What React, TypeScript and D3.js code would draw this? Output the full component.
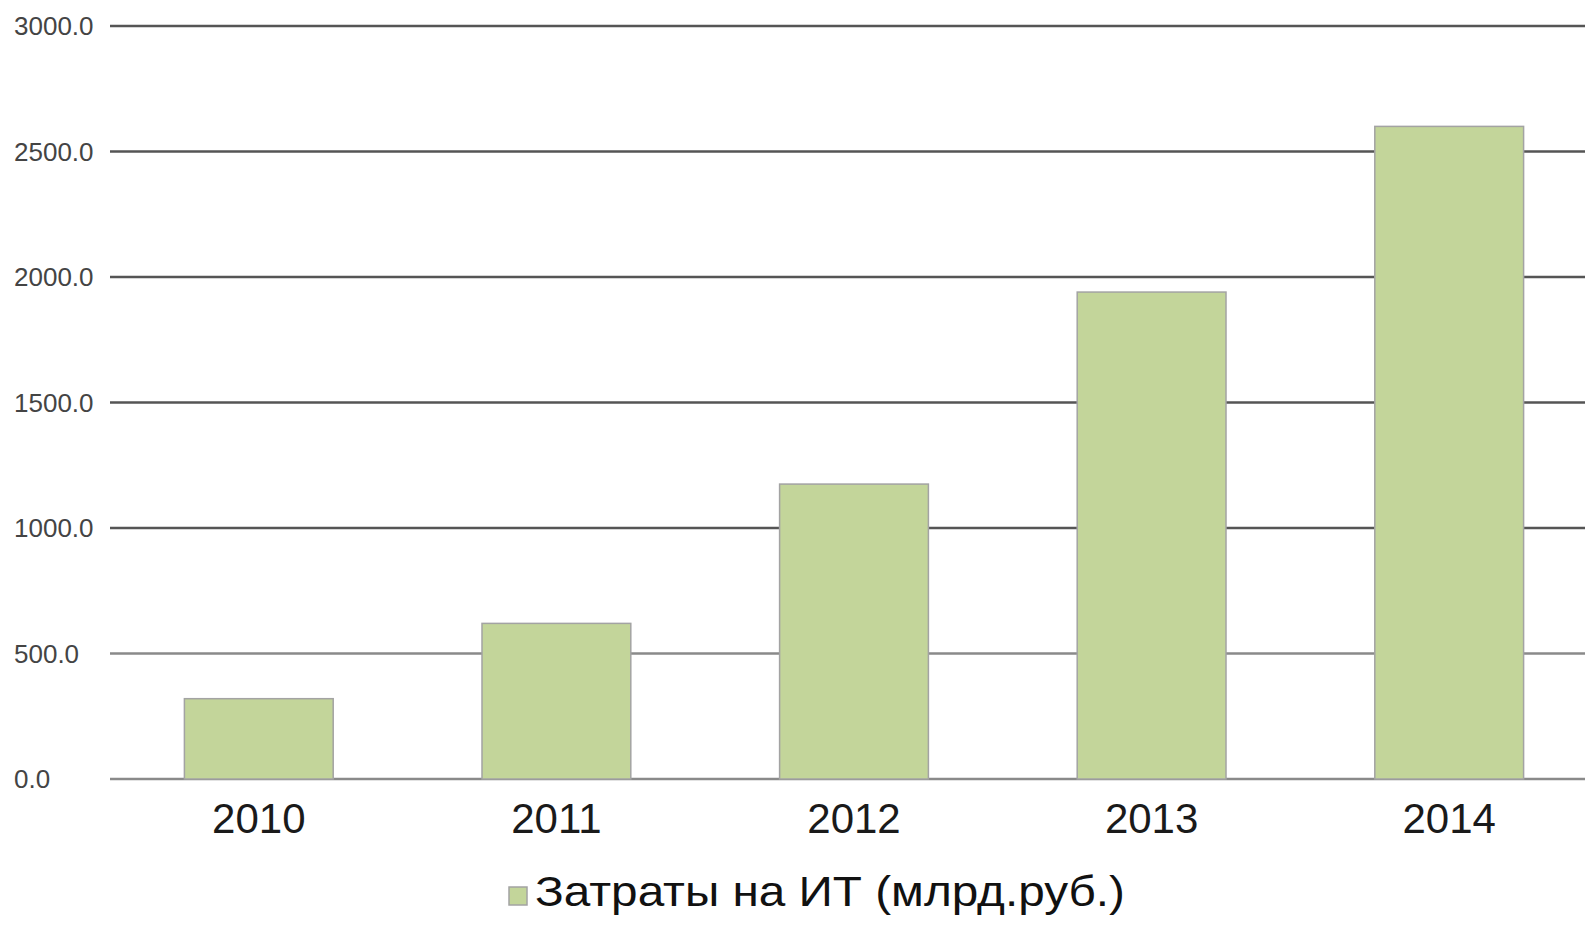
import React, { useEffect, useRef } from "react";
import * as d3 from "d3";

const years = ["2010", "2011", "2012", "2013", "2014"];
const spending = [320, 620, 1175, 1940, 2600];
const yTicks = [0, 500, 1000, 1500, 2000, 2500, 3000];
const legendLabel = "Затраты на ИТ (млрд.руб.)";

const width = 1585;
const height = 925;

export default function App() {
  const ref = useRef<SVGSVGElement>(null);

  useEffect(() => {
    const svg = d3.select(ref.current);
    svg.selectAll("*").remove();

    const left = 110,
      right = 1598,
      top = 26,
      bottom = 779;

    const x = d3.scaleBand().domain(years).range([left, right]).paddingInner(0.5).paddingOuter(0.25);
    const y = d3.scaleLinear().domain([0, 3000]).range([bottom, top]);

    // grid lines + labels
    const grid = svg.append("g");
    grid
      .selectAll("line")
      .data(yTicks)
      .join("line")
      .attr("x1", left)
      .attr("x2", width)
      .attr("y1", (d) => y(d))
      .attr("y2", (d) => y(d))
      .attr("stroke", (d) => (d <= 500 ? "#8a8a8a" : "#555"))
      .attr("stroke-width", 2.5);

    grid
      .selectAll("text")
      .data(yTicks)
      .join("text")
      .attr("x", 14)
      .attr("y", (d) => y(d))
      .attr("dy", "0.36em")
      .attr("font-family", "Liberation Sans, Arial, sans-serif")
      .attr("font-size", 26)
      .attr("fill", "#444")
      .text((d) => d3.format(".1f")(d));

    svg
      .append("g")
      .selectAll("rect")
      .data(spending)
      .join("rect")
      .attr("x", (d, i) => x(years[i])!)
      .attr("y", (d) => y(d))
      .attr("width", x.bandwidth())
      .attr("height", (d) => bottom - y(d))
      .attr("fill", "#c3d59a")
      .attr("stroke", "#a3a3a3")
      .attr("stroke-width", 1.5);

    // x labels
    svg
      .append("g")
      .selectAll("text")
      .data(years)
      .join("text")
      .attr("x", (d) => x(d)! + x.bandwidth() / 2)
      .attr("y", 833)
      .attr("text-anchor", "middle")
      .attr("font-family", "Liberation Sans, Arial, sans-serif")
      .attr("font-size", 42)
      .attr("fill", "#1a1a1a")
      .text((d) => d);

    // legend
    const legend = svg.append("g");
    legend
      .append("rect")
      .attr("x", 509)
      .attr("y", 887)
      .attr("width", 18)
      .attr("height", 18)
      .attr("fill", "#c3d59a")
      .attr("stroke", "#a3a3a3")
      .attr("stroke-width", 1.5);
    legend
      .append("text")
      .attr("x", 535)
      .attr("y", 906)
      .attr("font-family", "Liberation Sans, Arial, sans-serif")
      .attr("font-size", 42)
      .attr("textLength", 590)
      .attr("lengthAdjust", "spacingAndGlyphs")
      .attr("fill", "#111")
      .text(legendLabel);
  }, []);

  return (
    <div style={{ position: "absolute", left: 0, top: 0 }}>
      <svg ref={ref} width={width} height={height} style={{ display: "block", background: "#fff" }} />
    </div>
  );
}
